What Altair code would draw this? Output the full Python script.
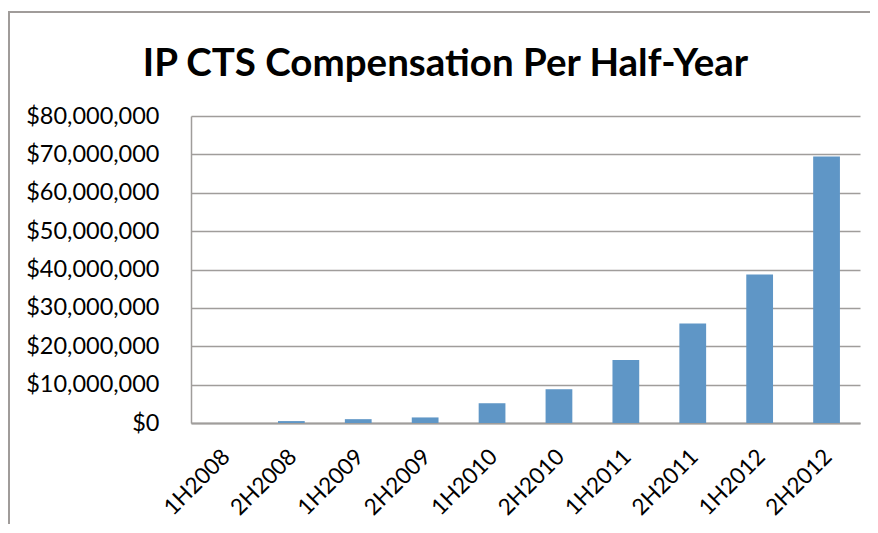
import altair as alt
import pandas as pd

periods = ["1H2008", "2H2008", "1H2009", "2H2009", "1H2010",
           "2H2010", "1H2011", "2H2011", "1H2012", "2H2012"]
compensation = [0, 500000, 1000000, 1450000, 5150000,
                8800000, 16400000, 25950000, 38700000, 69450000]

df = pd.DataFrame({"period": periods, "comp": compensation})

GRID = "#A09D9B"
FONT = "Lato"

bars = alt.Chart(df).mark_bar(color="#5F96C6").encode(
    x=alt.X("period:N", sort=periods, title=None,
            scale=alt.Scale(paddingInner=0.6, paddingOuter=0.3),
            axis=alt.Axis(labelAngle=-45, ticks=False, grid=False,
                          domainColor=GRID, domainWidth=2,
                          labelFont=FONT, labelFontSize=22.5, labelColor="black",
                          labelPadding=22, labelOffset=-6)),
    y=alt.Y("comp:Q", title=None,
            scale=alt.Scale(domain=[0, 80000000], nice=False),
            axis=alt.Axis(format="$,.0f", values=list(range(0, 80000001, 10000000)),
                          grid=True, gridColor=GRID, gridWidth=1.5,
                          ticks=False, domainColor=GRID, domainWidth=1.5,
                          labelFont=FONT, labelFontSize=23.5, labelColor="black",
                          labelPadding=32)),
)

frame_df = pd.DataFrame({"k": [0]})
border = alt.Chart(frame_df).mark_rect(fill=None, stroke="#A09C9A", strokeWidth=2,
                                       clip=False).encode(
    x=alt.value(-182), x2=alt.value(720), y=alt.value(-104), y2=alt.value(440))

chart = alt.layer(bars, border).properties(
    width=669, height=307,
    title=alt.TitleParams("IP CTS Compensation Per Half-Year", font=FONT, fontSize=38.5,
                          fontWeight="bold", color="black", anchor="middle", dx=-80,
                          offset=-73, frame="group"),
    autosize=alt.AutoSizeParams(type="none"),
    padding={"left": 183, "top": 108, "right": 10, "bottom": 101},
).configure_view(stroke=None)

chart.save("out.html", embed_options={"renderer": "svg", "actions": False})
